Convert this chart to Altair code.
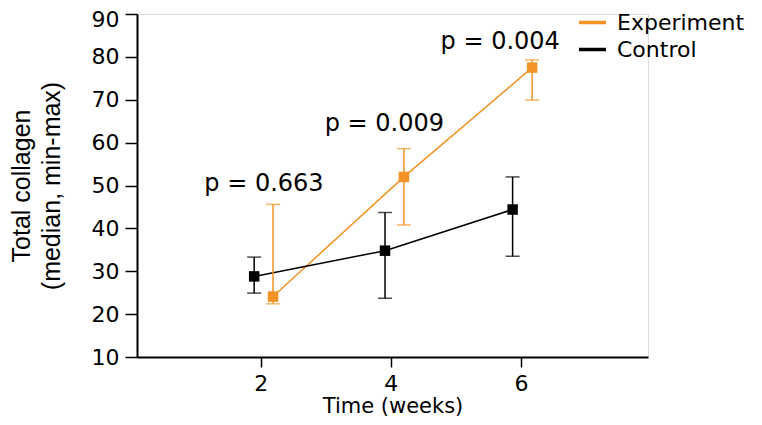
import altair as alt
import pandas as pd

weeks = [2, 4, 6]
groups = ["Experiment", "Control"]
exp_x = [2.19, 4.2, 6.17]
exp_median = [24.1, 52.0, 77.5]
exp_min = [22.4, 40.8, 69.9]
exp_max = [45.6, 58.6, 79.3]
ctl_x = [1.9, 3.91, 5.87]
ctl_median = [28.8, 34.8, 44.4]
ctl_min = [24.9, 23.7, 33.5]
ctl_max = [33.3, 43.7, 52.0]
p_labels = ["p = 0.663", "p = 0.009", "p = 0.004"]
p_x = [2.05, 3.9, 5.68]
p_y = [50.3, 64.3, 83.5]

rows = []
for i in range(3):
    rows.append({"group": "Experiment", "x": exp_x[i], "median": exp_median[i],
                 "lo": exp_min[i], "hi": exp_max[i], "week": weeks[i]})
for i in range(3):
    rows.append({"group": "Control", "x": ctl_x[i], "median": ctl_median[i],
                 "lo": ctl_min[i], "hi": ctl_max[i], "week": weeks[i]})
df = pd.DataFrame(rows)
ann = pd.DataFrame({"label": p_labels, "x": p_x, "y": p_y})

FONT = "DejaVu Sans"
TFONT = "Liberation Sans"
ORANGE = "#F39325"
cscale = alt.Scale(domain=groups, range=[ORANGE, "#000000"])
color = alt.Color("group:N", scale=cscale,
                  legend=alt.Legend(title=None, orient="none", legendX=440, legendY=-7,
                                    symbolType="stroke", symbolStrokeWidth=3.5,
                                    symbolSize=730, labelFontSize=22, labelFont=FONT,
                                    labelColor="#000000", rowPadding=-2,
                                    labelOffset=9, labelLimit=300))
nolegend = alt.Color("group:N", scale=cscale, legend=None)

xs = alt.Scale(domain=[0.1, 7.95], nice=False, zero=False)
ys = alt.Scale(domain=[10, 90], nice=False, zero=False)

xaxis = alt.Axis(values=[2, 4, 6], format="d", title="Time (weeks)", grid=False,
                 labelFontSize=22, titleFontSize=21, labelFont=FONT, titleFont=FONT,
                 titleFontWeight="normal", domainColor="#000000", tickColor="#000000",
                 labelColor="#000000", titleColor="#000000", domainWidth=2, tickWidth=1.5,
                 tickSize=10, labelPadding=6, titlePadding=1)
yaxis = alt.Axis(values=[10, 20, 30, 40, 50, 60, 70, 80, 90],
                 title=["Total collagen", "(median, min-max)"], grid=False,
                 labelFontSize=22, titleFontSize=25, labelFont=FONT, titleFont=TFONT,
                 titleFontWeight="normal", titleLineHeight=30,
                 domainColor="#000000", tickColor="#000000",
                 labelColor="#000000", titleColor="#000000", domainWidth=2, tickWidth=1.5,
                 tickSize=12, labelPadding=6, titlePadding=27,
                 labelOffset=alt.condition("datum.value == 90", alt.value(5), alt.value(0)))

base = alt.Chart(df)
line = base.mark_line(strokeWidth=1.5).encode(
    x=alt.X("x:Q", scale=xs, axis=xaxis),
    y=alt.Y("median:Q", scale=ys, axis=yaxis),
    color=color, detail="group:N")
err = base.mark_rule(strokeWidth=1.5).encode(
    x="x:Q", y="lo:Q", y2="hi:Q", color=nolegend)
caps_lo = base.mark_tick(thickness=1.5, size=14, orient="horizontal").encode(
    x="x:Q", y="lo:Q", color=nolegend)
caps_hi = base.mark_tick(thickness=1.5, size=14, orient="horizontal").encode(
    x="x:Q", y="hi:Q", color=nolegend)
pts = base.mark_square(size=110, opacity=1).encode(
    x="x:Q", y="median:Q", color=nolegend)
txt = alt.Chart(ann).mark_text(fontSize=24, font=FONT, color="#000000",
                               align="center", baseline="middle").encode(
    x="x:Q", y="y:Q", text="label:N")

chart = alt.layer(line, err, caps_lo, caps_hi, pts, txt).properties(
    width=511, height=343,
    autosize=alt.AutoSizeParams(type="none"),
    padding={"left": 129, "top": 6, "right": 106, "bottom": 60},
).configure_view(stroke=None).configure(background="white")

chart.save("out.html", embed_options={"renderer": "svg", "actions": False})
